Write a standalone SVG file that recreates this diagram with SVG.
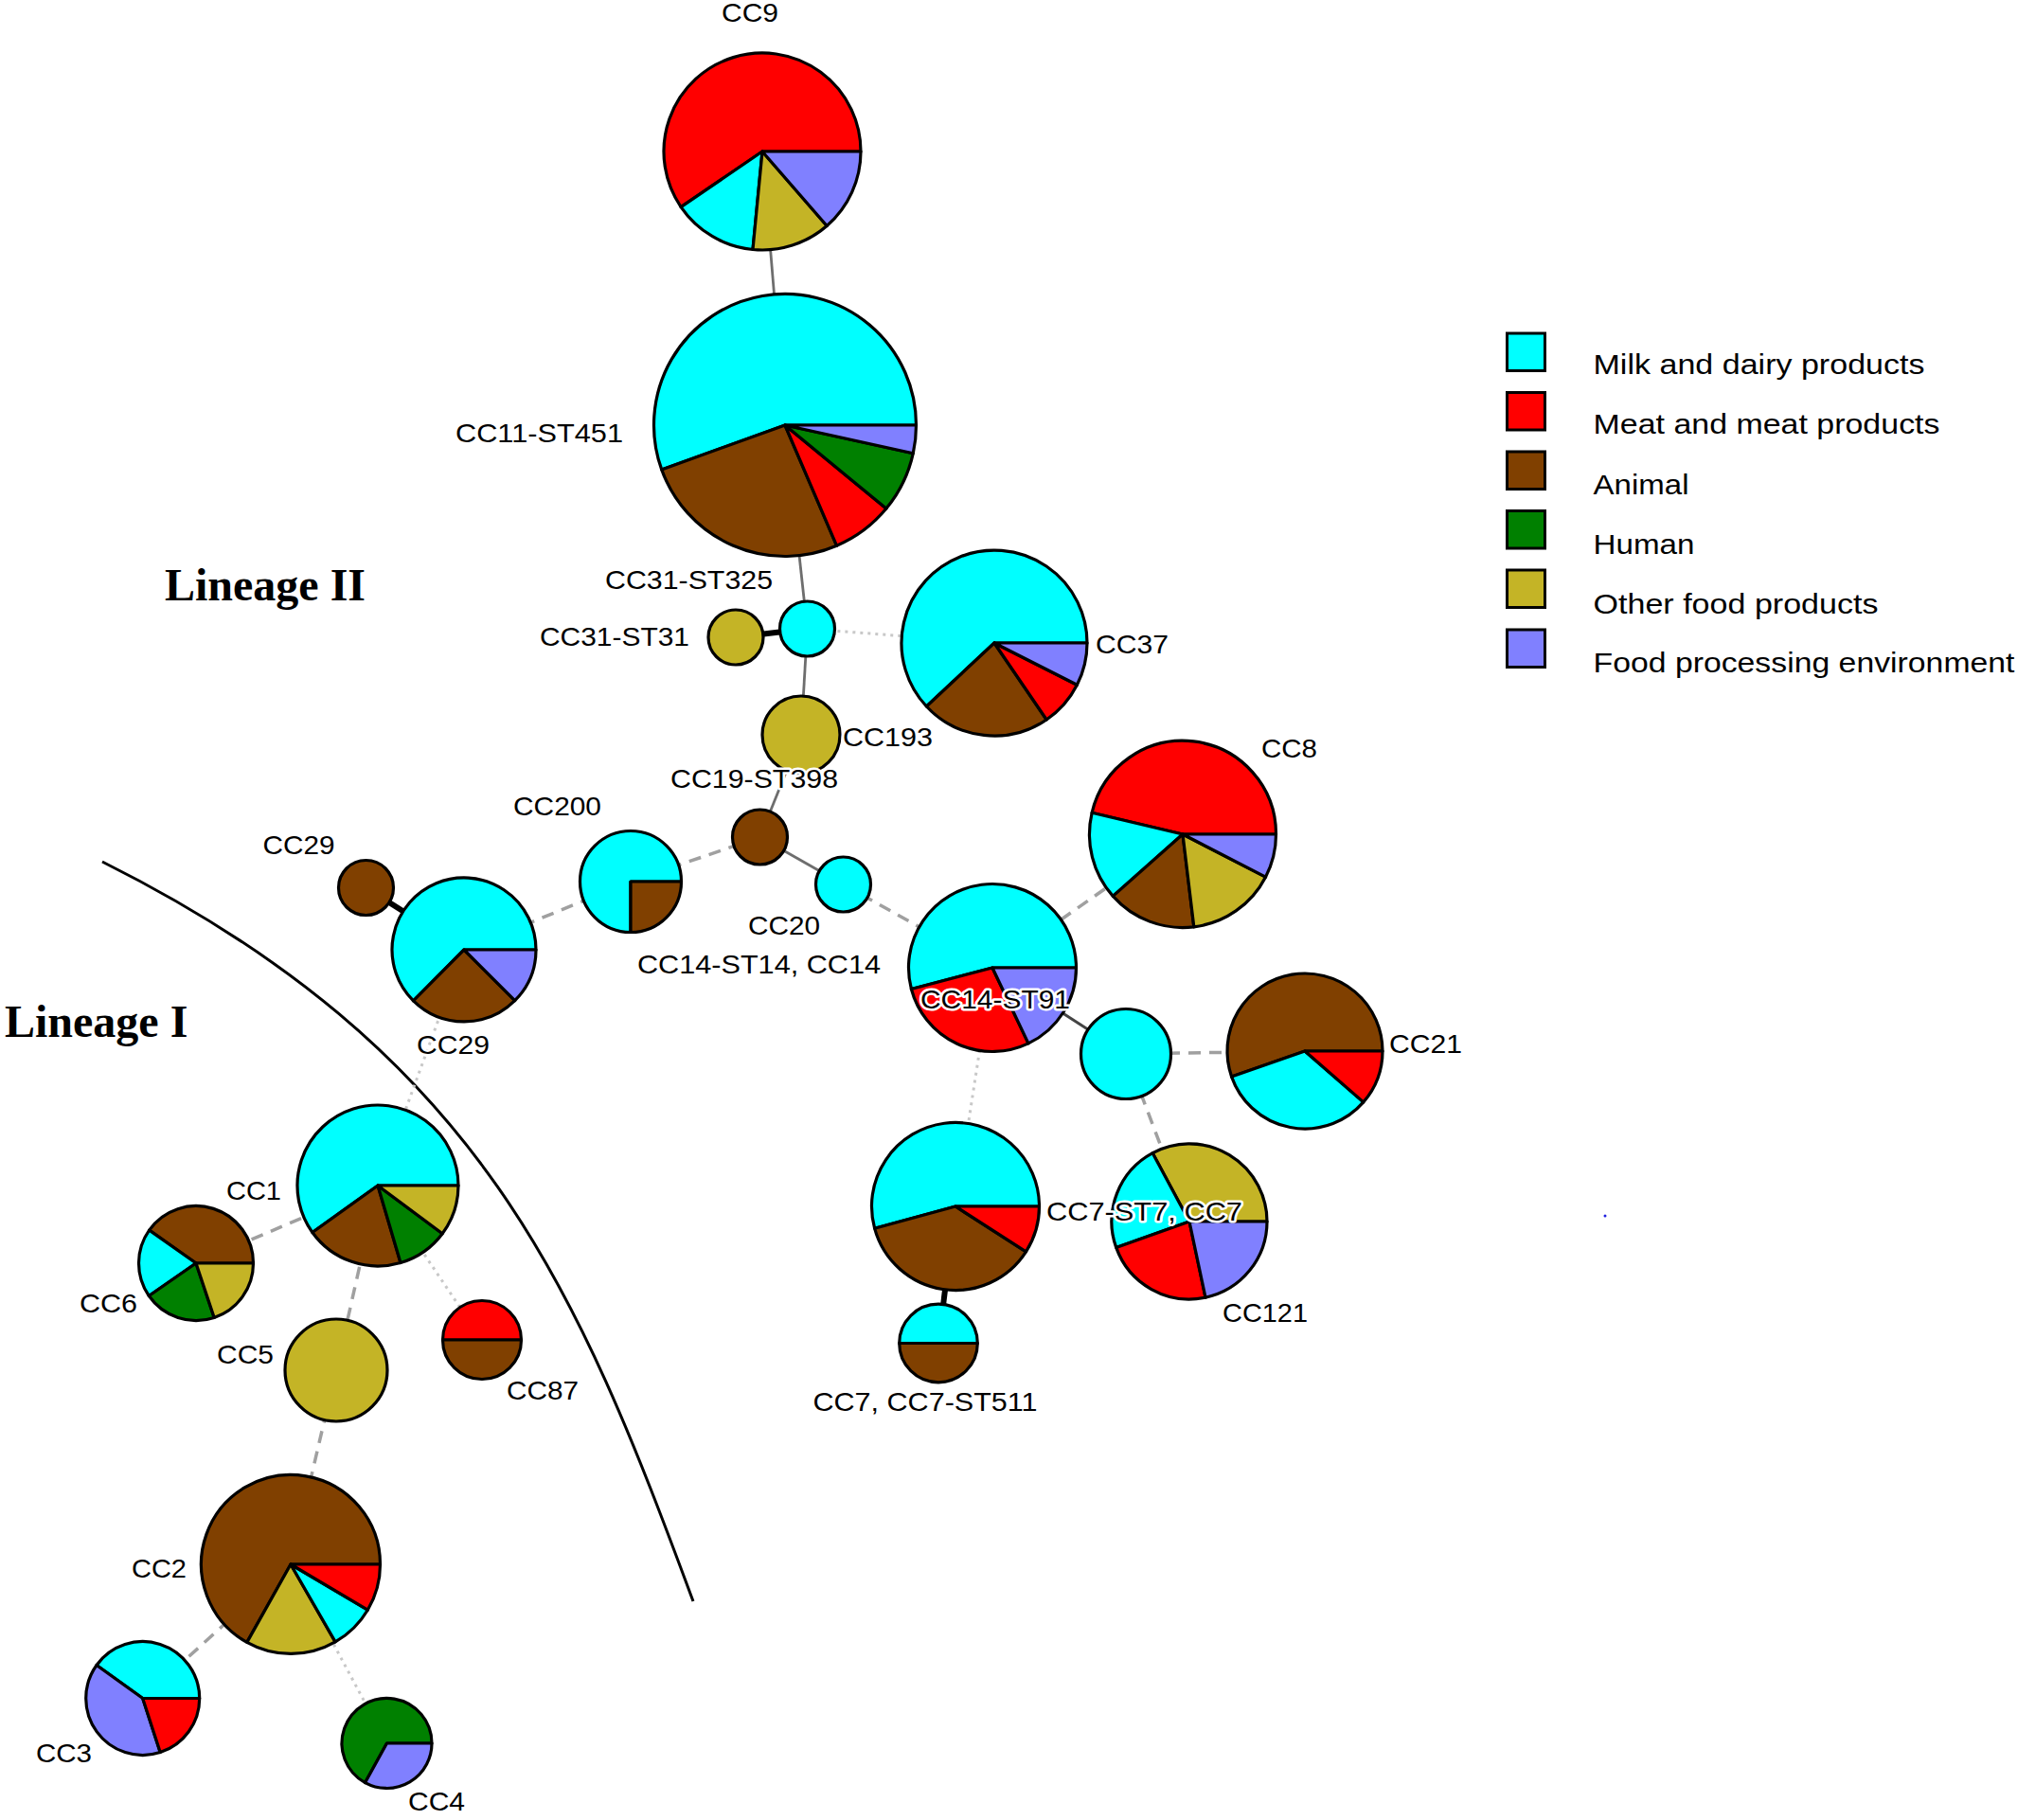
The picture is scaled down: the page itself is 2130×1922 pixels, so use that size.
<svg xmlns="http://www.w3.org/2000/svg" width="2130" height="1922" viewBox="0 0 2130 1922">
<style>
.bg{fill:#FFFFFF}
.n path,.n circle{stroke:#000;stroke-width:3.2;stroke-linejoin:round}
.mk{fill:#00FFFF}.mt{fill:#FF0000}.an{fill:#804000}.hu{fill:#008000}.ot{fill:#C4B426}.fp{fill:#8080FF}
.lbl{font-family:"Liberation Sans",Arial,sans-serif;font-size:28px;fill:#000;stroke:#FFF;stroke-width:5;stroke-linejoin:round;paint-order:stroke}
.leg{font-family:"Liberation Sans",Arial,sans-serif;font-size:30px;fill:#000}
.lin{font-family:"Liberation Serif","Times New Roman",serif;font-size:48px;font-weight:bold;fill:#000}
.solid{stroke:#6E6E6E;stroke-width:2.8;fill:none}
.dark{stroke:#444;stroke-width:3;fill:none}
.thick{stroke:#000;stroke-width:6;fill:none}
.dash{stroke:#A0A0A0;stroke-width:3.5;stroke-dasharray:13,9;fill:none}
.dot{stroke:#C8C8C8;stroke-width:3;stroke-dasharray:3,5;fill:none}
.box{stroke:#000;stroke-width:3}
</style>
<rect class="bg" x="0" y="0" width="2130" height="1922"/>
<path d="M108,910 C510,1111 610.5,1363 732,1691" fill="none" stroke="#000" stroke-width="3"/>
<g id="connectors">
<line class="solid" x1="805" y1="160" x2="829" y2="449"/>
<line class="solid" x1="829" y1="449" x2="852.5" y2="664"/>
<line class="thick" x1="852.5" y1="664" x2="777" y2="673"/>
<line class="dot" x1="852.5" y1="664" x2="1050" y2="679"/>
<line class="solid" x1="852.5" y1="664" x2="846" y2="776"/>
<line class="solid" x1="846" y1="776" x2="802.5" y2="884"/>
<line class="dash" x1="802.5" y1="884" x2="666" y2="931"/>
<line class="solid" x1="802.5" y1="884" x2="890.5" y2="934"/>
<line class="dash" x1="666" y1="931" x2="490" y2="1003"/>
<line class="thick" x1="490" y1="1003" x2="386.5" y2="937.5"/>
<line class="dash" x1="890.5" y1="934" x2="1048" y2="1022"/>
<line class="dash" x1="1048" y1="1022" x2="1249" y2="881"/>
<line class="dark" x1="1048" y1="1022" x2="1189" y2="1113"/>
<line class="dash" x1="1189" y1="1113" x2="1378" y2="1110"/>
<line class="dash" x1="1189" y1="1113" x2="1256" y2="1290"/>
<line class="dot" x1="1048" y1="1022" x2="1009" y2="1274"/>
<line class="thick" x1="1009" y1="1274" x2="991" y2="1418.5"/>
<line class="dot" x1="490" y1="1003" x2="399" y2="1252"/>
<line class="dash" x1="399" y1="1252" x2="207" y2="1334"/>
<line class="dash" x1="399" y1="1252" x2="355" y2="1447"/>
<line class="dot" x1="399" y1="1252" x2="509" y2="1415"/>
<line class="dash" x1="355" y1="1447" x2="307" y2="1652"/>
<line class="dash" x1="307" y1="1652" x2="150.7" y2="1793.5"/>
<line class="dot" x1="307" y1="1652" x2="408.5" y2="1841"/>
</g>
<g id="CC9" class="n">
<path class="mt" d="M805,160 L909,160 A104,104 0 1 0 719.1,218.6 Z"/>
<path class="mk" d="M805,160 L719.1,218.6 A104,104 0 0 0 795,263.5 Z"/>
<path class="ot" d="M805,160 L795,263.5 A104,104 0 0 0 873.2,238.5 Z"/>
<path class="fp" d="M805,160 L873.2,238.5 A104,104 0 0 0 909,160 Z"/>
</g>
<g id="CC11-ST451" class="n">
<path class="mk" d="M829,449 L967.5,449 A138.5,138.5 0 1 0 698.7,495.9 Z"/>
<path class="an" d="M829,449 L698.7,495.9 A138.5,138.5 0 0 0 883.6,576.3 Z"/>
<path class="mt" d="M829,449 L883.6,576.3 A138.5,138.5 0 0 0 935.9,537.1 Z"/>
<path class="hu" d="M829,449 L935.9,537.1 A138.5,138.5 0 0 0 964.3,478.7 Z"/>
<path class="fp" d="M829,449 L964.3,478.7 A138.5,138.5 0 0 0 967.5,449 Z"/>
</g>
<g id="CC31-ST325" class="n"><circle class="mk" cx="852.5" cy="664" r="29"/></g>
<g id="CC31-ST31" class="n"><circle class="ot" cx="777" cy="673" r="29"/></g>
<g id="CC37" class="n">
<path class="mk" d="M1050,679 L1148,679 A98,98 0 1 0 978.4,746 Z"/>
<path class="an" d="M1050,679 L978.4,746 A98,98 0 0 0 1105.2,760 Z"/>
<path class="mt" d="M1050,679 L1105.2,760 A98,98 0 0 0 1137.4,723.3 Z"/>
<path class="fp" d="M1050,679 L1137.4,723.3 A98,98 0 0 0 1148,679 Z"/>
</g>
<g id="CC193" class="n"><circle class="ot" cx="846" cy="776" r="41"/></g>
<g id="CC19-ST398" class="n"><circle class="an" cx="802.5" cy="884" r="29"/></g>
<g id="CC200" class="n">
<path class="mk" d="M666,931 L719.5,931 A53.5,53.5 0 1 0 666,984.5 Z"/>
<path class="an" d="M666,931 L666,984.5 A53.5,53.5 0 0 0 719.5,931 Z"/>
</g>
<g id="CC20" class="n"><circle class="mk" cx="890.5" cy="934" r="29"/></g>
<g id="CC29-small" class="n"><circle class="an" cx="386.5" cy="937.5" r="29"/></g>
<g id="CC29" class="n">
<path class="mk" d="M490,1003 L566,1003 A76,76 0 1 0 436.5,1056.9 Z"/>
<path class="an" d="M490,1003 L436.5,1056.9 A76,76 0 0 0 543.7,1056.7 Z"/>
<path class="fp" d="M490,1003 L543.7,1056.7 A76,76 0 0 0 566,1003 Z"/>
</g>
<g id="CC8" class="n">
<path class="mt" d="M1249,881 L1347.5,881 A98.5,98.5 0 0 0 1153.1,858.3 Z"/>
<path class="mk" d="M1249,881 L1153.1,858.3 A98.5,98.5 0 0 0 1175.3,946.4 Z"/>
<path class="an" d="M1249,881 L1175.3,946.4 A98.5,98.5 0 0 0 1260.8,978.8 Z"/>
<path class="ot" d="M1249,881 L1260.8,978.8 A98.5,98.5 0 0 0 1336.5,926.2 Z"/>
<path class="fp" d="M1249,881 L1336.5,926.2 A98.5,98.5 0 0 0 1347.5,881 Z"/>
</g>
<g id="CC14-ST91" class="n">
<path class="mk" d="M1048,1022 L1136.5,1022 A88.5,88.5 0 1 0 962.4,1044.5 Z"/>
<path class="mt" d="M1048,1022 L962.4,1044.5 A88.5,88.5 0 0 0 1086,1101.9 Z"/>
<path class="fp" d="M1048,1022 L1086,1101.9 A88.5,88.5 0 0 0 1136.5,1022 Z"/>
</g>
<g id="ST-node" class="n"><circle class="mk" cx="1189" cy="1113" r="47.5"/></g>
<g id="CC21" class="n">
<path class="an" d="M1378,1110 L1460,1110 A82,82 0 1 0 1300.6,1137.1 Z"/>
<path class="mk" d="M1378,1110 L1300.6,1137.1 A82,82 0 0 0 1439.8,1163.9 Z"/>
<path class="mt" d="M1378,1110 L1439.8,1163.9 A82,82 0 0 0 1460,1110 Z"/>
</g>
<g id="CC121" class="n">
<path class="ot" d="M1256,1290 L1338,1290 A82,82 0 0 0 1217.2,1217.7 Z"/>
<path class="mk" d="M1256,1290 L1217.2,1217.7 A82,82 0 0 0 1178.7,1317.4 Z"/>
<path class="mt" d="M1256,1290 L1178.7,1317.4 A82,82 0 0 0 1273,1370.2 Z"/>
<path class="fp" d="M1256,1290 L1273,1370.2 A82,82 0 0 0 1338,1290 Z"/>
</g>
<g id="CC7" class="n">
<path class="mk" d="M1009,1274 L1097.5,1274 A88.5,88.5 0 1 0 923.6,1297.2 Z"/>
<path class="an" d="M1009,1274 L923.6,1297.2 A88.5,88.5 0 0 0 1083.5,1321.8 Z"/>
<path class="mt" d="M1009,1274 L1083.5,1321.8 A88.5,88.5 0 0 0 1097.5,1274 Z"/>
</g>
<g id="CC7-ST511" class="n">
<path class="mk" d="M949.7,1418.5 A41.3,41.3 0 0 1 1032.3,1418.5 Z"/>
<path class="an" d="M1032.3,1418.5 A41.3,41.3 0 0 1 949.7,1418.5 Z"/>
</g>
<g id="CC1" class="n">
<path class="mk" d="M399,1252 L484,1252 A85,85 0 1 0 329.9,1301.5 Z"/>
<path class="an" d="M399,1252 L329.9,1301.5 A85,85 0 0 0 423,1333.5 Z"/>
<path class="hu" d="M399,1252 L423,1333.5 A85,85 0 0 0 467.2,1302.7 Z"/>
<path class="ot" d="M399,1252 L467.2,1302.7 A85,85 0 0 0 484,1252 Z"/>
</g>
<g id="CC6" class="n">
<path class="an" d="M207,1334 L267.5,1334 A60.5,60.5 0 0 0 157.6,1299.1 Z"/>
<path class="mk" d="M207,1334 L157.6,1299.1 A60.5,60.5 0 0 0 157.3,1368.5 Z"/>
<path class="hu" d="M207,1334 L157.3,1368.5 A60.5,60.5 0 0 0 226.2,1391.4 Z"/>
<path class="ot" d="M207,1334 L226.2,1391.4 A60.5,60.5 0 0 0 267.5,1334 Z"/>
</g>
<g id="CC5" class="n"><circle class="ot" cx="355" cy="1447" r="54"/></g>
<g id="CC87" class="n">
<path class="mt" d="M467.5,1415 A41.5,41.5 0 0 1 550.5,1415 Z"/>
<path class="an" d="M550.5,1415 A41.5,41.5 0 0 1 467.5,1415 Z"/>
</g>
<g id="CC2" class="n">
<path class="an" d="M307,1652 L401.5,1652 A94.5,94.5 0 1 0 260.8,1734.4 Z"/>
<path class="ot" d="M307,1652 L260.8,1734.4 A94.5,94.5 0 0 0 354.1,1733.9 Z"/>
<path class="mk" d="M307,1652 L354.1,1733.9 A94.5,94.5 0 0 0 388.3,1700.2 Z"/>
<path class="mt" d="M307,1652 L388.3,1700.2 A94.5,94.5 0 0 0 401.5,1652 Z"/>
</g>
<g id="CC3" class="n">
<path class="mk" d="M150.7,1793.5 L210.7,1793.5 A60,60 0 0 0 102,1758.5 Z"/>
<path class="fp" d="M150.7,1793.5 L102,1758.5 A60,60 0 0 0 169.2,1850.6 Z"/>
<path class="mt" d="M150.7,1793.5 L169.2,1850.6 A60,60 0 0 0 210.7,1793.5 Z"/>
</g>
<g id="CC4" class="n">
<path class="hu" d="M408.5,1841 L456,1841 A47.5,47.5 0 1 0 385.6,1882.6 Z"/>
<path class="fp" d="M408.5,1841 L385.6,1882.6 A47.5,47.5 0 0 0 456,1841 Z"/>
</g>
<g id="labels">
<text class="lbl" x="762" y="23" textLength="60" lengthAdjust="spacingAndGlyphs">CC9</text>
<text class="lbl" x="481" y="467" textLength="177" lengthAdjust="spacingAndGlyphs">CC11-ST451</text>
<text class="lbl" x="639" y="622" textLength="177" lengthAdjust="spacingAndGlyphs">CC31-ST325</text>
<text class="lbl" x="570" y="682" textLength="158" lengthAdjust="spacingAndGlyphs">CC31-ST31</text>
<text class="lbl" x="1157" y="690" textLength="77" lengthAdjust="spacingAndGlyphs">CC37</text>
<text class="lbl" x="890" y="788" textLength="95" lengthAdjust="spacingAndGlyphs">CC193</text>
<text class="lbl" x="708" y="832" textLength="177" lengthAdjust="spacingAndGlyphs">CC19-ST398</text>
<text class="lbl" x="542" y="861" textLength="93" lengthAdjust="spacingAndGlyphs">CC200</text>
<text class="lbl" x="790" y="986.5" textLength="76" lengthAdjust="spacingAndGlyphs">CC20</text>
<text class="lbl" x="673" y="1027.5" textLength="257" lengthAdjust="spacingAndGlyphs">CC14-ST14, CC14</text>
<text class="lbl" x="277.6" y="901.7" textLength="76" lengthAdjust="spacingAndGlyphs">CC29</text>
<text class="lbl" x="440" y="1112.7" textLength="77" lengthAdjust="spacingAndGlyphs">CC29</text>
<text class="lbl" x="1332" y="800" textLength="59" lengthAdjust="spacingAndGlyphs">CC8</text>
<text class="lbl" x="972" y="1065" textLength="158" lengthAdjust="spacingAndGlyphs">CC14-ST91</text>
<text class="lbl" x="1467" y="1112" textLength="77" lengthAdjust="spacingAndGlyphs">CC21</text>
<text class="lbl" x="1291" y="1396" textLength="90" lengthAdjust="spacingAndGlyphs">CC121</text>
<text class="lbl" x="1105" y="1289" textLength="207" lengthAdjust="spacingAndGlyphs">CC7-ST7, CC7</text>
<text class="lbl" x="858.5" y="1490" textLength="237" lengthAdjust="spacingAndGlyphs">CC7, CC7-ST511</text>
<text class="lbl" x="239" y="1267" textLength="58" lengthAdjust="spacingAndGlyphs">CC1</text>
<text class="lbl" x="84" y="1386" textLength="61" lengthAdjust="spacingAndGlyphs">CC6</text>
<text class="lbl" x="229" y="1439.5" textLength="60" lengthAdjust="spacingAndGlyphs">CC5</text>
<text class="lbl" x="535" y="1478" textLength="76" lengthAdjust="spacingAndGlyphs">CC87</text>
<text class="lbl" x="139" y="1666" textLength="58" lengthAdjust="spacingAndGlyphs">CC2</text>
<text class="lbl" x="38" y="1861" textLength="59" lengthAdjust="spacingAndGlyphs">CC3</text>
<text class="lbl" x="431" y="1912" textLength="60" lengthAdjust="spacingAndGlyphs">CC4</text>
</g>
<text class="lin" x="174" y="634">Lineage II</text>
<text class="lin" x="5" y="1095">Lineage I</text>
<circle cx="1695" cy="1284" r="1.5" fill="#2020E0"/>
<g id="legend">
<rect class="box mk" x="1591.5" y="352" width="40" height="39.5"/>
<rect class="box mt" x="1591.5" y="414.5" width="40" height="39.5"/>
<rect class="box an" x="1591.5" y="477" width="40" height="39.5"/>
<rect class="box hu" x="1591.5" y="539.5" width="40" height="39.5"/>
<rect class="box ot" x="1591.5" y="602" width="40" height="39.5"/>
<rect class="box fp" x="1591.5" y="665" width="40" height="39.5"/>
<text class="leg" x="1682.5" y="395" textLength="350" lengthAdjust="spacingAndGlyphs">Milk and dairy products</text>
<text class="leg" x="1682.5" y="458" textLength="366" lengthAdjust="spacingAndGlyphs">Meat and meat products</text>
<text class="leg" x="1682.5" y="521.5" textLength="101" lengthAdjust="spacingAndGlyphs">Animal</text>
<text class="leg" x="1682.5" y="585" textLength="107" lengthAdjust="spacingAndGlyphs">Human</text>
<text class="leg" x="1682.5" y="647.5" textLength="301" lengthAdjust="spacingAndGlyphs">Other food products</text>
<text class="leg" x="1682.5" y="710" textLength="445" lengthAdjust="spacingAndGlyphs">Food processing environment</text>
</g>
</svg>
